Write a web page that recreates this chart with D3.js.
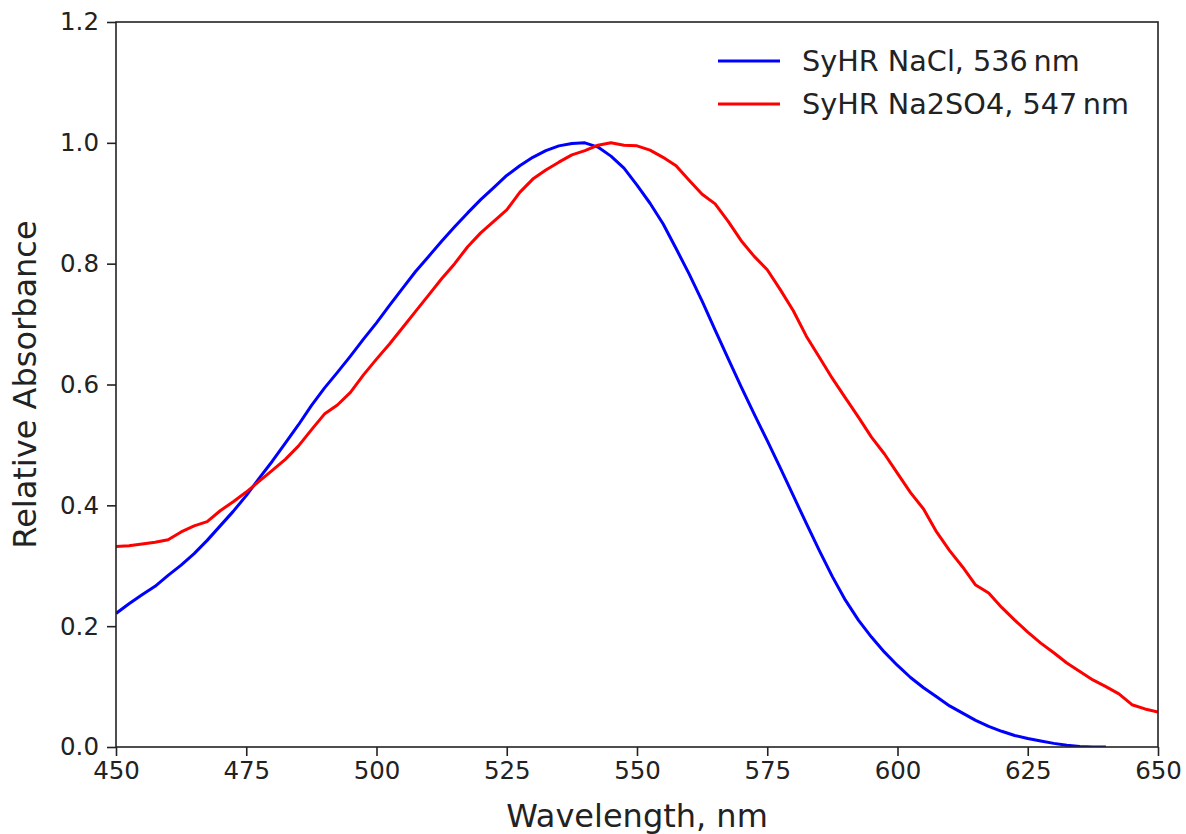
<!DOCTYPE html>
<html>
<head>
<meta charset="utf-8">
<script src="https://cdn.jsdelivr.net/npm/d3@7"></script>
<style>
  html, body { margin: 0; padding: 0; background: #fff; }
  svg { display: block; font-family: "DejaVu Sans", sans-serif; }
</style>
</head>
<body>
<svg id="chart" width="1186" height="834"></svg>
<script>
// wavelength grid, nm
const wavelengths = d3.range(450, 650.01, 2.5);

// SyHR in NaCl (ends near 640 nm)
const nacl = [
  0.221, 0.237, 0.252, 0.266, 0.284, 0.301, 0.320, 0.342, 0.366, 0.390,
  0.416, 0.445, 0.473, 0.503, 0.533, 0.565, 0.594, 0.620, 0.647, 0.675,
  0.702, 0.731, 0.759, 0.787, 0.812, 0.837, 0.861, 0.884, 0.906, 0.926,
  0.946, 0.962, 0.976, 0.987, 0.995, 0.999, 1.000, 0.993, 0.978, 0.958,
  0.930, 0.900, 0.866, 0.825, 0.783, 0.738, 0.690, 0.643, 0.596, 0.551,
  0.507, 0.462, 0.416, 0.370, 0.325, 0.282, 0.243, 0.210, 0.182, 0.157,
  0.135, 0.115, 0.098, 0.083, 0.068, 0.056, 0.044, 0.034, 0.026, 0.019,
  0.014, 0.010, 0.006, 0.003, 0.001, 0.000, 0.000
];

// SyHR in Na2SO4
const na2so4 = [
  0.332, 0.333, 0.336, 0.339, 0.343, 0.356, 0.366, 0.373, 0.391, 0.406,
  0.422, 0.440, 0.458, 0.476, 0.498, 0.525, 0.551, 0.566, 0.587, 0.616,
  0.642, 0.667, 0.694, 0.721, 0.748, 0.775, 0.800, 0.828, 0.851, 0.870,
  0.889, 0.918, 0.940, 0.955, 0.968, 0.980, 0.987, 0.996, 1.000, 0.996,
  0.995, 0.988, 0.976, 0.962, 0.938, 0.915, 0.899, 0.870, 0.838, 0.812,
  0.790, 0.757, 0.722, 0.680, 0.645, 0.610, 0.578, 0.546, 0.513, 0.485,
  0.453, 0.421, 0.394, 0.356, 0.325, 0.298, 0.268, 0.255, 0.231, 0.210,
  0.190, 0.172, 0.156, 0.139, 0.125, 0.111, 0.100, 0.088, 0.070, 0.063,
  0.058
];

const xTicks = [450, 475, 500, 525, 550, 575, 600, 625, 650];
const yTicks = [0.0, 0.2, 0.4, 0.6, 0.8, 1.0, 1.2];

const seriesNames = ["SyHR NaCl, 536\u2009nm", "SyHR Na2SO4, 547\u2009nm"];
const seriesColors = ["#0000ff", "#ff0000"];

const svg = d3.select("#chart");
const plotLeft = 116, plotRight = 1158, plotTop = 22, plotBottom = 747;

const x = d3.scaleLinear().domain([450, 650]).range([plotLeft, plotRight]);
const y = d3.scaleLinear().domain([0, 1.2]).range([plotBottom, plotTop]);

const line = d3.line()
  .defined(d => d[1] != null)
  .x(d => x(d[0]))
  .y(d => y(d[1]));

svg.append("clipPath").attr("id", "plotclip")
  .append("rect")
  .attr("x", plotLeft).attr("y", plotTop)
  .attr("width", plotRight - plotLeft).attr("height", plotBottom - plotTop);

const plot = svg.append("g").attr("clip-path", "url(#plotclip)");

[nacl, na2so4].forEach((vals, i) => {
  const pts = wavelengths.map((w, k) => [w, k < vals.length ? vals[k] : null]);
  plot.append("path")
    .datum(pts)
    .attr("fill", "none")
    .attr("stroke", seriesColors[i])
    .attr("stroke-width", 3)
    .attr("stroke-linejoin", "round")
    .attr("d", line);
});

// axes
const xAxis = svg.append("g")
  .attr("transform", `translate(0,${plotBottom})`)
  .call(d3.axisBottom(x).tickValues(xTicks).tickSize(9).tickPadding(6).tickFormat(d3.format("d")));
const yAxis = svg.append("g")
  .attr("transform", `translate(${plotLeft},0)`)
  .call(d3.axisLeft(y).tickValues(yTicks).tickSize(9).tickPadding(8).tickFormat(d3.format(".1f")));

[xAxis, yAxis].forEach(a => {
  a.select(".domain").remove();
  a.selectAll(".tick line").attr("stroke", "#222").attr("stroke-width", 1.6);
  a.selectAll(".tick text")
    .attr("fill", "#222")
    .style("font-family", "DejaVu Sans, sans-serif")
    .style("font-size", "24.5px");
});

// frame
svg.append("rect")
  .attr("x", plotLeft).attr("y", plotTop)
  .attr("width", plotRight - plotLeft).attr("height", plotBottom - plotTop)
  .attr("fill", "none")
  .attr("stroke", "#222")
  .attr("stroke-width", 1.6);

// axis labels
svg.append("text")
  .attr("x", (plotLeft + plotRight) / 2)
  .attr("y", 827)
  .attr("text-anchor", "middle")
  .attr("fill", "#222")
  .style("font-size", "32px")
  .text("Wavelength, nm");

svg.append("text")
  .attr("transform", `translate(36,${(plotTop + plotBottom) / 2}) rotate(-90)`)
  .attr("text-anchor", "middle")
  .attr("fill", "#222")
  .style("font-size", "32px")
  .text("Relative Absorbance");

// legend
const legend = svg.append("g");
seriesNames.forEach((name, i) => {
  const ly = 61 + i * 43;
  legend.append("line")
    .attr("x1", 718).attr("x2", 780)
    .attr("y1", ly).attr("y2", ly)
    .attr("stroke", seriesColors[i])
    .attr("stroke-width", 3);
  legend.append("text")
    .attr("x", 802)
    .attr("y", ly)
    .attr("dy", "0.36em")
    .attr("fill", "#222")
    .style("font-size", "28.7px")
    .text(name);
});
</script>
</body>
</html>
